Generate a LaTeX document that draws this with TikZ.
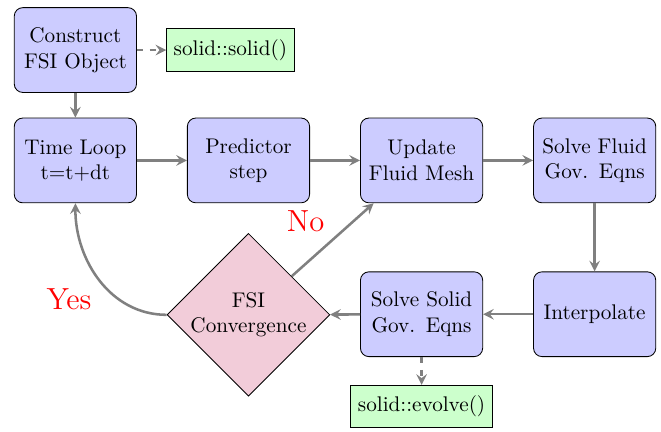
\documentclass[tikz,border=0pt]{standalone}
\usepackage{tikz}
\usetikzlibrary{shapes.geometric}

\begin{document}
\begin{tikzpicture}[
  block/.style={rectangle,draw,fill=blue!20,text width=5.1em,align=center,rounded corners,minimum height=4em},
  code/.style={rectangle,draw,fill=green!20,minimum height=2em},
  decision/.style={diamond,draw,fill=purple!20,align=center,inner sep=0pt,minimum size=2.7cm},
  line/.style={draw,very thick,gray,-stealth},
  answer/.style={red,font=\Large}]
\useasboundingbox (0,0) rectangle (10.96,-7.15);
% top row
\node [block] (init) at (1.25,-0.83) {Construct FSI Object};
\node [code] (ctor) at (3.82,-0.83) {solid::solid()};
% time loop row
\node [block] (time) at (1.25,-2.66) {Time Loop t=t+dt};
\node [block] (pred) at (4.12,-2.66) {Predictor step};
\node [block] (mesh) at (6.99,-2.66) {Update Fluid Mesh};
\node [block] (fluid) at (9.86,-2.66) {Solve Fluid Gov.  Eqns};
% coupling row
\node [block] (interp) at (9.86,-5.21) {Interpolate};
\node [block] (solve) at (6.99,-5.21) {Solve Solid Gov.  Eqns};
\node [decision] (conv) at (4.12,-5.22) {FSI\\Convergence};
\node [code] (evolve) at (6.99,-6.74) {solid::evolve()};
% connectors
\draw [line,dashed] (init) -- (ctor);
\draw [line] (init) -- (time);
\draw [line] (time) -- (pred);
\draw [line] (pred) -- (mesh);
\draw [line] (mesh) -- (fluid);
\draw [line] (fluid) -- (interp);
\draw [line] (interp) -- (solve);
\draw [line] (solve) -- (conv);
\draw [line,dashed] (solve) -- (evolve);
\draw [line] (conv) -- node [answer,above left] (no) {No} (mesh);
\draw [line] (conv.west) to [out=180,in=-90] node [answer,below left] (yes) {Yes} (time.south);
\end{tikzpicture}
\end{document}
